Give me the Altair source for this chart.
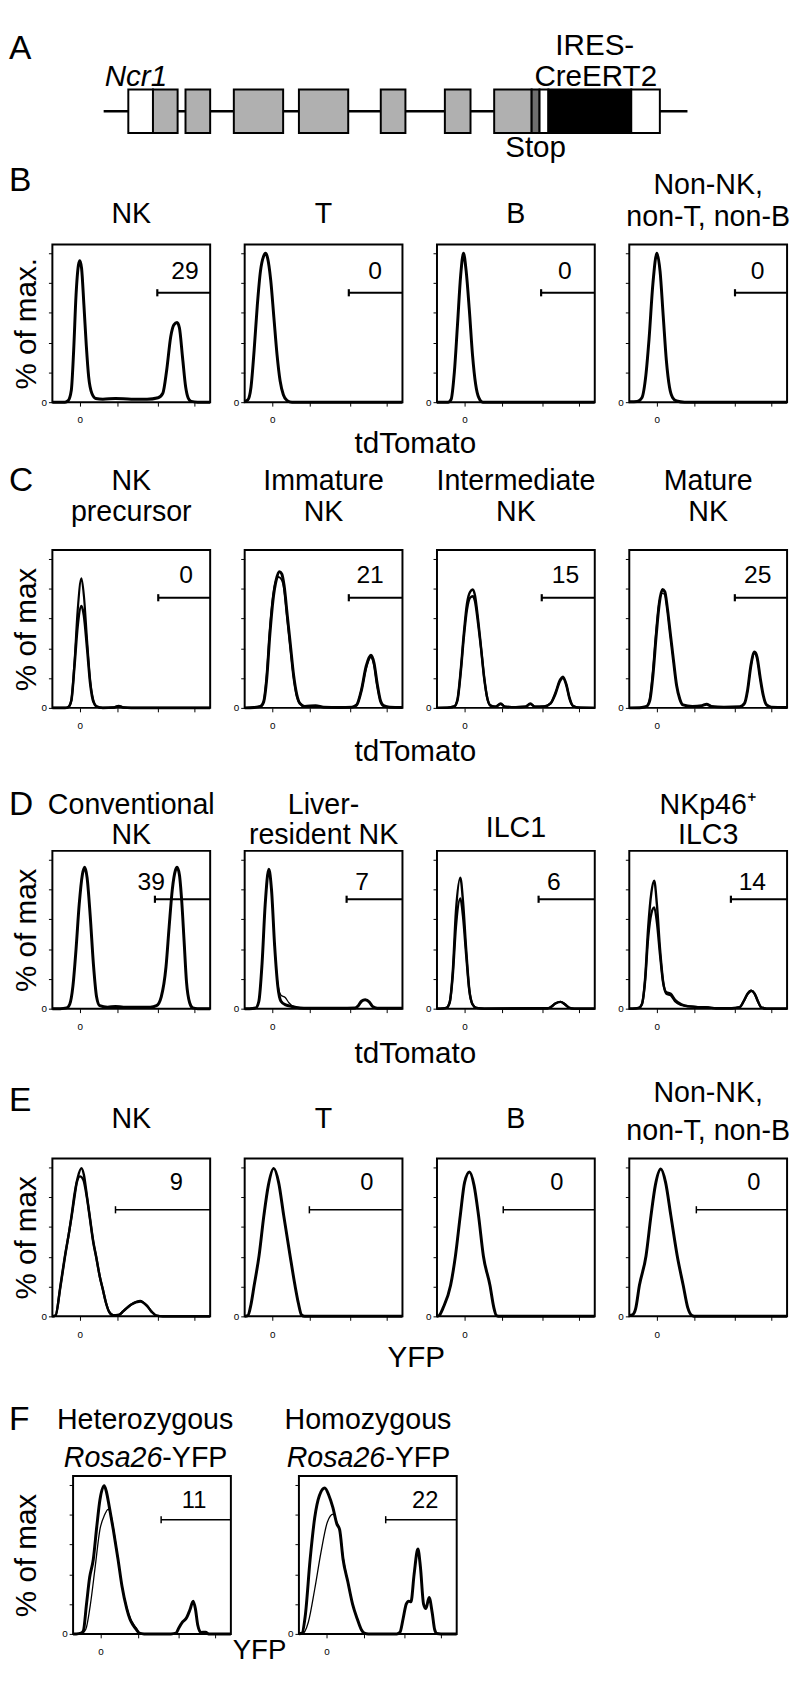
import altair as alt
import pandas as pd

FONT = "Liberation Sans"

# ---------------- Panel A: Ncr1 locus schematic (positions along the schematic) ----------------
locus_start = [52]
locus_end = [644]
exon_start = [77, 102, 135, 184, 250, 333, 398, 448, 486, 494, 503, 587]
exon_end = [102, 127, 160, 234, 300, 358, 424, 486, 494, 503, 587, 616]
exon_part = ["UTR", "exon", "exon", "exon", "exon", "exon", "exon", "exon", "stop", "IRES", "CreERT2", "UTR"]
part_names = ["UTR", "exon", "stop", "IRES", "CreERT2"]
part_colors = ["white", "#b0b0b0", "#6e6e6e", "white", "black"]

# ---------------- Histogram axes ----------------
X_TICKS = [17.4, 41, 67, 90]
Y_TICKS = [0, 20, 40, 60, 80, 100]

# ---------------- Row B (tdTomato, spleen subsets) ----------------
B1 = [(0, 0), (8, 0), (10, 1), (12, 8), (13.5, 35), (15, 72), (16.5, 92), (17.4, 95), (18.5, 90), (20, 65),
      (21.5, 38), (23, 17), (25, 6), (27.5, 2.5), (32, 2), (40, 2.5), (50, 2), (60, 2), (67, 3), (70, 6),
      (72.5, 22), (75, 44), (77, 52), (79, 53.5), (80.5, 50), (82.5, 30), (84.5, 10), (86, 3), (88, 0.5),
      (92, 0), (100, 0)]
B2 = [(0, 0.5), (2, 1.5), (4, 10), (6, 35), (8, 65), (10, 88), (12, 98), (13.2, 100), (14.5, 97), (16.5, 82),
      (18.5, 57), (20.5, 32), (22.5, 14), (24.5, 5), (27, 1), (30, 0), (100, 0)]
B3 = [(0, 0), (7, 0), (9, 2), (11, 20), (13, 52), (15, 85), (16.8, 100), (18.5, 88), (20.5, 62), (22.5, 32),
      (24.5, 12), (26.5, 3), (29, 0), (100, 0)]
B4 = [(0, 0.3), (5, 0.5), (8, 3), (10.5, 18), (12.5, 42), (15, 80), (17.5, 100), (19.5, 88), (21.5, 58),
      (23.5, 28), (25.5, 10), (27.5, 3), (30, 0.8), (35, 0), (100, 0)]

# ---------------- Row C (tdTomato, NK maturation) ----------------
C1a = [(0, 0), (8, 0), (10, 0.5), (12, 5), (14, 30), (16, 65), (18.4, 87), (20, 75), (22, 45), (24, 18),
       (26, 5), (28, 1), (32, 0), (39, 0.3), (42, 1.2), (45, 0.3), (50, 0), (100, 0)]
C1b = [(0, 0), (8, 0), (10, 0.5), (12, 5), (14, 28), (16, 55), (18.4, 68.5), (20, 62), (22, 40), (24, 16),
       (26, 4), (28, 1), (32, 0), (39, 0.3), (42, 1.2), (45, 0.3), (50, 0), (100, 0)]
C2a = [(0, 0), (6, 0.3), (10, 1), (12, 4), (14, 20), (16, 50), (18, 73), (20, 86), (22, 91.5), (23.5, 90),
       (25, 82), (27, 62), (29, 42), (31, 22), (33, 9), (35, 3), (38, 1), (45, 1.5), (50, 0.5), (60, 0.3),
       (68, 0.5), (71, 2), (74, 12), (77, 28), (80, 35.3), (82, 30), (84, 16), (86, 5), (88, 1.5), (92, 0.5),
       (100, 0.3)]
C2b = [(0, 0), (6, 0.3), (10, 1), (12, 4), (14, 22), (16, 53), (18, 75), (20, 86), (21.5, 88), (23.5, 86),
       (25, 80), (27, 60), (29, 40), (31, 21), (33, 8), (35, 3), (38, 1), (45, 1.2), (50, 0.5), (60, 0.3),
       (68, 0.5), (71, 2), (74, 12), (77, 27), (80, 34), (82, 29), (84, 15), (86, 5), (88, 1.5), (92, 0.5),
       (100, 0.3)]
C3a = [(0, 0), (8, 0.3), (11, 1), (13, 6), (15, 25), (17, 50), (19, 70), (21, 78), (22.7, 79.5), (24, 76),
       (26, 60), (28, 40), (30, 20), (32, 6), (34, 1.5), (37, 0.8), (40.4, 3), (43, 0.8), (50, 0.5), (56, 0.8),
       (59.2, 3), (62, 0.8), (68, 1), (72, 3), (75, 10), (78, 19), (79.8, 21), (82, 16), (84, 7), (86, 1.5),
       (89, 0.3), (100, 0)]
C3b = [(0, 0), (8, 0.3), (11, 1), (13, 5), (15, 23), (17, 47), (19, 66), (21, 74), (22.7, 75), (24, 72),
       (26, 57), (28, 39), (30, 19), (32, 6), (34, 1.5), (37, 0.8), (40.4, 2.5), (43, 0.8), (50, 0.5), (56, 0.8),
       (59.2, 2.5), (62, 0.8), (68, 1), (72, 3), (75, 9), (78, 18), (79.8, 20), (82, 15), (84, 6), (86, 1.5),
       (89, 0.3), (100, 0)]
C4a = [(0, 0), (8, 0.3), (11, 1), (13, 5), (15, 22), (17, 48), (19, 70), (21, 79.5), (22.5, 78), (24, 68),
       (26, 50), (28, 32), (30, 15), (32, 6), (34, 2), (40, 1), (46, 1.5), (49, 2.5), (52, 1), (60, 0.5),
       (70, 0.8), (73, 3), (75, 12), (77, 28), (79.4, 37.5), (81, 34), (83, 20), (85, 8), (87, 2), (90, 0.5),
       (100, 0.3)]
C4b = [(0, 0), (8, 0.3), (11, 1.2), (13, 7), (15, 27), (17, 53), (19, 72), (21, 77), (22.5, 76), (24, 66),
       (26, 48), (28, 31), (30, 15), (32, 6), (34, 2), (40, 1), (46, 1.5), (49, 2.3), (52, 1), (60, 0.5),
       (70, 0.8), (73, 3), (75, 11), (77, 27), (79.4, 36.5), (81, 33), (83, 19), (85, 8), (87, 2), (90, 0.5),
       (100, 0.3)]

# ---------------- Row D (tdTomato, liver / gut ILCs) ----------------
D1 = [(0, 0), (5, 0), (9, 0.5), (11, 3), (13, 15), (15, 40), (17, 70), (19, 90), (20.5, 95), (22, 88),
      (24, 62), (26, 30), (28, 8), (30, 2), (35, 1), (40, 1.5), (45, 1), (55, 1), (62, 1), (66, 2), (69, 8),
      (72, 28), (74, 55), (76, 80), (78, 93), (79, 95), (80.5, 90), (82, 72), (83.5, 45), (85, 18), (87, 4),
      (89, 0.5), (92, 0), (100, 0)]
D2a = [(0, 0), (3, 0), (7, 0.5), (9, 5), (11, 30), (13, 70), (15.3, 93.6), (17, 80), (19, 42), (21, 15),
       (23, 5), (26, 2.5), (30, 1.5), (35, 0.5), (40, 0.3), (60, 0.3), (70, 0.5), (72, 2), (74, 5), (76.4, 6),
       (79, 4.5), (81, 1.5), (84, 0.3), (100, 0.3)]
D2b = [(0, 0), (3, 0), (7, 0.5), (9, 5), (11, 30), (13, 70), (15.3, 93), (17, 80), (19, 42), (21, 17),
       (23, 9), (25.7, 7.5), (28, 4), (31, 1.5), (36, 0.5), (40, 0.3), (60, 0.3), (70, 0.5), (72, 2), (74, 5),
       (76.4, 6), (79, 4.5), (81, 1.5), (84, 0.3), (100, 0.3)]
D3a = [(0, 0), (2, 0), (6, 0.5), (8, 4), (10, 25), (12, 65), (14.8, 88), (16.5, 72), (18.5, 40), (20.5, 13),
       (22.5, 3), (25, 0.5), (30, 0), (70, 0.3), (72, 1), (75, 3.5), (78.3, 4.6), (81, 3), (83.5, 0.8), (87, 0),
       (100, 0)]
D3b = [(0, 0), (2, 0), (6, 0.5), (8, 4), (10, 22), (12, 55), (14.8, 74), (16.5, 62), (18.5, 36), (20.5, 12),
       (22.5, 3), (25, 0.5), (30, 0), (70, 0.3), (72, 1), (75, 3.5), (78.3, 4.6), (81, 3), (83.5, 0.8), (87, 0),
       (100, 0)]
D4a = [(0, 0), (2, 0), (6, 0.5), (8, 3), (10, 20), (12, 55), (14, 78), (15.8, 86), (17.5, 70), (19.5, 40),
       (21.5, 18), (23.5, 10), (26.3, 9), (29, 5), (33, 2.5), (38, 1.5), (45, 1), (50, 0.8), (55, 0.3),
       (65, 0.3), (70, 1), (72.5, 5), (75, 10), (77.3, 12), (79.5, 10), (81.5, 5), (83.5, 1), (87, 0), (100, 0)]
D4b = [(0, 0), (2, 0), (6, 0.5), (8, 3), (10, 18), (12, 48), (14, 64), (15.8, 68), (17.5, 58), (19.5, 36),
       (21.5, 17), (23.5, 11), (26.3, 10), (29, 6), (33, 3), (38, 1.5), (45, 1), (50, 0.8), (55, 0.3),
       (65, 0.3), (70, 1), (72.5, 5), (75, 10), (77.3, 12), (79.5, 10), (81.5, 5), (83.5, 1), (87, 0), (100, 0)]

# ---------------- Row E (YFP, spleen subsets) ----------------
E1a = [(0, 0), (2, 0.5), (5, 20), (8, 41), (10.5, 56), (12.2, 68), (14, 82), (16, 93), (18.4, 99.5), (20, 95),
       (22, 80), (23.6, 68), (26, 50), (27.7, 40.6), (30, 27), (32, 18), (34, 9), (36, 3), (38.5, 0.8), (42, 1),
       (45, 3.5), (50, 8), (55.7, 10.4), (60, 7), (63, 3), (66, 0.5), (70, 0), (100, 0)]
E1b = [(0, 0), (2, 0.5), (5, 19), (8, 40), (10.5, 56), (12.2, 67), (14, 80), (15.5, 90), (17.5, 94), (19.5, 92),
       (22, 79), (23.6, 67), (26, 49), (27.7, 40), (30, 27), (32, 18), (34, 9), (36, 3), (38.5, 0.8), (42, 1),
       (45, 3.5), (50, 8), (55.7, 10), (60, 7), (63, 3), (66, 0.5), (70, 0), (100, 0)]
E2 = [(0, 0), (2, 0.5), (4, 8), (6, 20.7), (9.1, 40.6), (12.2, 68), (15, 88), (18.4, 99.4), (21.5, 90),
      (24.7, 68), (28.8, 40.6), (31.9, 20.7), (34, 9), (36, 1), (38, 0), (100, 0)]
E3 = [(0, 0), (1.3, 0.5), (4, 6), (8.6, 20.7), (11.7, 40.6), (14.8, 68), (17.5, 90), (20.6, 97), (23.5, 88),
      (26.3, 68), (29.4, 40.6), (33.6, 20.7), (36, 6), (37.7, 0.5), (40, 0), (100, 0)]
E4 = [(0, 0.5), (2, 1), (4, 5), (6.4, 20.7), (10.6, 40.6), (13.8, 68), (16.5, 88), (20, 99), (23, 90),
      (26.3, 68), (30.4, 40.6), (34.2, 20.7), (37, 6), (39.8, 0.5), (42, 0), (100, 0)]

# ---------------- Row F (YFP, Rosa26 zygosity) ----------------
F1a = [(0, 0), (2, 0), (5, 0.5), (6.5, 2), (8.5, 20), (10.5, 38), (12.8, 50), (15, 72), (17, 90), (19.7, 99.6),
       (21, 96), (23, 85), (25.5, 70), (28.5, 50), (31, 32), (34, 17), (36, 10), (38, 6), (40, 3), (42, 0.5),
       (45, 0), (62, 0), (65.2, 0.5), (67, 4), (69.4, 8), (72, 11), (74, 16), (76.1, 22), (77.5, 17), (79, 6),
       (81, 1), (84, 1.2), (86, 0), (100, 0)]
F1b = [(0, 0), (5, 0), (8, 3), (11, 20), (14, 45), (17, 70), (20, 80), (22.2, 83.7), (24, 80), (26, 68),
       (28.5, 50), (31, 32), (34, 18), (36.5, 10), (38, 7), (40, 4), (42, 0.5), (45, 0), (100, 0)]
F2a = [(0, 0), (2, 0.5), (4, 12), (7.1, 50), (10, 78), (13, 93), (16.4, 98), (19, 93), (21.5, 85), (24, 74),
       (25.8, 70), (28, 50), (31, 35), (34, 20), (37, 10), (39.5, 3), (41.5, 0.5), (44, 0), (62, 0), (64, 1),
       (66, 10), (68, 20), (69.6, 22), (71, 21.5), (73, 40), (75.4, 57), (77, 45), (79, 20), (80.5, 17),
       (82.5, 24.5), (84.5, 14), (86, 3), (87.3, 0.3), (90, 0), (100, 0)]
F2b = [(0, 0), (2, 0), (6, 8), (10, 30), (14, 55), (18, 75), (21.7, 80.4), (24, 75), (25.8, 70), (28, 52),
       (31, 35), (34, 20), (37, 10), (40, 2), (43, 0), (100, 0)]

THICK = 3.0
THIN = 1.3

XS = alt.Scale(domain=[0, 100], nice=False, zero=False)
YS = alt.Scale(domain=[0, 106], nice=False, zero=False)


def x_axis():
    return alt.Axis(
        values=X_TICKS, labelExpr="datum.value == 17.4 ? '0' : ''",
        tickSize=4, labelPadding=9, domain=False, grid=False, title=None,
        labelFont=FONT, labelFontSize=10, labelColor="black", tickColor="black",
        labelOverlap=False, labelFlush=False)


def y_axis(title, tx):
    kw = dict(
        values=Y_TICKS, labelExpr="datum.value == 0 ? '0' : ''",
        tickSize=4, labelPadding=2, domain=False, grid=False,
        labelFont=FONT, labelFontSize=10, labelColor="black", tickColor="black",
        labelOverlap=False, labelFlush=False)
    if title:
        kw.update(title=title, titleX=tx, titleY=80, titleAngle=270, titleAlign="center",
                  titleBaseline="middle", titleFont=FONT, titleFontSize=30,
                  titleFontWeight="normal", titleColor="black")
    else:
        kw["title"] = None
    return alt.Axis(**kw)


def label(text, x, y, size, align="center", style="normal"):
    return alt.Chart(pd.DataFrame({"t": [text]})).mark_text(
        font=FONT, fontSize=size, fontStyle=style, align=align, baseline="middle", color="black"
    ).encode(text="t:N", x=alt.value(x), y=alt.value(y))


def spacer(x, top, bottom):
    # invisible layout guide that fixes the vertical band of a row
    return alt.Chart(pd.DataFrame({"s": [0]})).mark_rule(opacity=0).encode(
        x=alt.value(x), y=alt.value(top), y2=alt.value(bottom))


def blank(width):
    return alt.Chart(pd.DataFrame({"s": [0]})).mark_point(opacity=0).properties(
        width=width, height=160, view=alt.ViewBackground(strokeOpacity=0))


def panel_layers(spec, row, first):
    xa = x_axis()
    ya = y_axis(row["ytitle"] if first else None, row["ytx"])
    recs = []
    for name, pts, w in spec["curves"]:
        for x, y in pts:
            recs.append({"curve": name, "x": x, "y": y, "w": w})
    cdf = pd.DataFrame(recs)
    lines = alt.Chart(cdf).mark_line(interpolate="monotone", color="black", strokeJoin="round").encode(
        x=alt.X("x:Q", scale=XS, axis=xa),
        y=alt.Y("y:Q", scale=YS, axis=ya),
        detail="curve:N",
        strokeWidth=alt.StrokeWidth("w:Q", scale=None, legend=None))
    gy = row["gate_y"]
    gdf = pd.DataFrame({"x": [spec["gate"]], "x1": [100], "y": [gy], "ylo": [gy - 2.4], "yhi": [gy + 2.4]})
    gate = alt.Chart(gdf).mark_rule(color="black", strokeWidth=row["gate_w"]).encode(
        x=alt.X("x:Q", scale=XS, axis=xa), x2="x1:Q", y=alt.Y("y:Q", scale=YS, axis=ya))
    cap = alt.Chart(gdf).mark_rule(color="black", strokeWidth=row["gate_w"]).encode(
        x=alt.X("x:Q", scale=XS, axis=xa), y=alt.Y("ylo:Q", scale=YS, axis=ya), y2="yhi:Q")
    ndf = pd.DataFrame({"t": [spec["num"]], "x": [spec["num_x"]], "y": [row["num_y"]]})
    num = alt.Chart(ndf).mark_text(font=FONT, fontSize=row["num_size"], color="black",
                                   align="center", baseline="middle").encode(
        x=alt.X("x:Q", scale=XS, axis=xa), y=alt.Y("y:Q", scale=YS, axis=ya), text="t:N")
    layers = [lines, gate, cap, num]
    if "title_items" in spec:
        for txt, tx, ty, style, align in spec["title_items"]:
            layers.append(label(txt, tx, ty, 29, align=align, style=style))
    else:
        tl = spec["title"]
        ys = list(row["t2"]) if len(tl) == 2 else [row["t1"]]
        for txt, ty in zip(tl, ys):
            layers.append(label(txt, 80, ty, 29))
    return layers


def make_row(row):
    charts = []
    for i, spec in enumerate(row["panels"]):
        layers = panel_layers(spec, row, i == 0)
        if i == 0:
            layers += [label(row["letter"], row["left"], row["letter_y"], 34, align="left"),
                       label(row["xlabel"], row["xl_x"], row["xl_y"], row.get("xl_size", 30)),
                       spacer(row["left"], -row["T"], row["Bot"])]
        charts.append(alt.layer(*layers).properties(width=160, height=160))
    if row.get("blanks"):
        b0, b1 = row["blanks"]
        charts = [blank(b0), charts[0], blank(b1), charts[1]]
    return alt.hconcat(*charts, spacing=row["spacing"], bounds="flush")


rowB = dict(letter="B", letter_y=-64, ytitle="% of max.", ytx=-26, xlabel="tdTomato", xl_x=368, xl_y=203,
            T=81, Bot=221, left=-44, spacing=35, gate_y=73.5, num_y=88, num_size=25, gate_w=2.2,
            t1=-31, t2=(-60, -28),
            panels=[dict(title=["NK"], curves=[("a", B1, THICK)], gate=66.5, num="29", num_x=84),
                    dict(title=["T"], curves=[("a", B2, THICK)], gate=66, num="0", num_x=82.6),
                    dict(title=["B"], curves=[("a", B3, THICK)], gate=66, num="0", num_x=81),
                    dict(title=["Non-NK,", "non-T, non-B"], curves=[("a", B4, THICK)], gate=67, num="0",
                         num_x=81.4)])

rowC = dict(letter="C", letter_y=-70, ytitle="% of max", ytx=-26, xlabel="tdTomato", xl_x=368, xl_y=205,
            T=86, Bot=227, left=-44, spacing=35, gate_y=74, num_y=89.5, num_size=25, gate_w=2.2,
            t1=-40, t2=(-70, -39),
            panels=[dict(title=["NK", "precursor"], curves=[("a", C1a, 2.2), ("b", C1b, 2.6)], gate=67.1,
                         num="0", num_x=84.7),
                    dict(title=["Immature", "NK"], curves=[("a", C2a, THICK), ("b", C2b, 2.0)], gate=66,
                         num="21", num_x=79.5),
                    dict(title=["Intermediate", "NK"], curves=[("a", C3a, 2.4), ("b", C3b, 2.4)], gate=66.4,
                         num="15", num_x=81.4),
                    dict(title=["Mature", "NK"], curves=[("a", C4a, THICK), ("b", C4b, THIN)], gate=66.9,
                         num="25", num_x=81.4)])

rowD = dict(letter="D", letter_y=-46, ytitle="% of max", ytx=-26, xlabel="tdTomato", xl_x=368, xl_y=206,
            T=76, Bot=227, left=-44, spacing=35, gate_y=73.5, num_y=85, num_size=25, gate_w=2.2,
            t1=-23, t2=(-46, -16),
            panels=[dict(title=["Conventional", "NK"], curves=[("a", D1, THICK)], gate=65, num="39",
                         num_x=62.7),
                    dict(title=["Liver-", "resident NK"], curves=[("a", D2a, THICK), ("b", D2b, THIN)],
                         gate=64.6, num="7", num_x=74.5),
                    dict(title=["ILC1"], curves=[("a", D3a, 2.4), ("b", D3b, 2.4)], gate=64.4, num="6",
                         num_x=74),
                    dict(title=["NKp46⁺", "ILC3"], curves=[("a", D4a, 2.4), ("b", D4b, 2.4)], gate=64.4,
                         num="14", num_x=78)])

rowE = dict(letter="E", letter_y=-58, ytitle="% of max", ytx=-26, xlabel="YFP", xl_x=369, xl_y=202,
            T=83, Bot=227, left=-44, spacing=35, gate_y=71.6, num_y=89.5, num_size=24, gate_w=1.5,
            t1=-40, t2=(-66, -28),
            panels=[dict(title=["NK"], curves=[("a", E1a, 2.4), ("b", E1b, 2.4)], gate=40, num="9",
                         num_x=78.5),
                    dict(title=["T"], curves=[("a", E2, THICK)], gate=41, num="0", num_x=77.4),
                    dict(title=["B"], curves=[("a", E3, THICK)], gate=42, num="0", num_x=76),
                    dict(title=["Non-NK,", "non-T, non-B"], curves=[("a", E4, THICK)], gate=42.5, num="0",
                         num_x=79)])

rowF = dict(letter="F", letter_y=-57, ytitle="% of max", ytx=-47, xlabel="YFP", xl_x=189, xl_y=177,
            xl_size=28, T=93, Bot=191, left=-65, spacing=10, blanks=(11, 49), gate_y=76.7, num_y=89.3,
            num_size=24, gate_w=1.5, t1=-30, t2=(-57, -17),
            panels=[dict(title_items=[("Heterozygous", 73, -57, "normal", "center"),
                                      ("Rosa26", 90.5, -18, "italic", "right"),
                                      ("-YFP", 90.5, -18, "normal", "left")],
                         curves=[("a", F1a, THICK), ("b", F1b, THIN)], gate=55.8, num="11", num_x=76.7),
                    dict(title_items=[("Homozygous", 70, -57, "normal", "center"),
                                      ("Rosa26", 87.5, -18, "italic", "right"),
                                      ("-YFP", 87.5, -18, "normal", "left")],
                         curves=[("a", F2a, THICK), ("b", F2b, THIN)], gate=55, num="22", num_x=80)])

# ---------------- Row A chart ----------------
A_H = 116
exon_df = pd.DataFrame({"start": exon_start, "end": exon_end, "part": exon_part})
locus_df = pd.DataFrame({"start": locus_start, "end": locus_end})
AX = alt.Scale(domain=[0, 746], nice=False, zero=False)

locus = alt.Chart(locus_df).mark_rule(color="black", strokeWidth=2.5).encode(
    x=alt.X("start:Q", scale=AX, axis=None), x2="end:Q", y=alt.value(63))
exons = alt.Chart(exon_df).mark_rect(stroke="black", strokeWidth=2).encode(
    x=alt.X("start:Q", scale=AX, axis=None), x2="end:Q",
    y=alt.value(41), y2=alt.value(85),
    fill=alt.Fill("part:N", scale=alt.Scale(domain=part_names, range=part_colors), legend=None))
rowA = alt.layer(
    locus, exons,
    label("A", -44, 0, 34, align="left"),
    label("Ncr1", 53, 28, 30, align="left", style="italic"),
    label("IRES-", 550, -3, 30),
    label("CreERT2", 551, 28, 30),
    label("Stop", 490, 100, 30),
    spacer(-44, -30, A_H),
).properties(width=746, height=A_H, view=alt.ViewBackground(strokeOpacity=0))

chart = alt.vconcat(
    rowA, make_row(rowB), make_row(rowC), make_row(rowD), make_row(rowE), make_row(rowF),
    spacing=0
).properties(padding=0).configure_view(stroke="black", strokeWidth=2)

chart.save("out.html", embed_options={"renderer": "svg", "actions": False})
